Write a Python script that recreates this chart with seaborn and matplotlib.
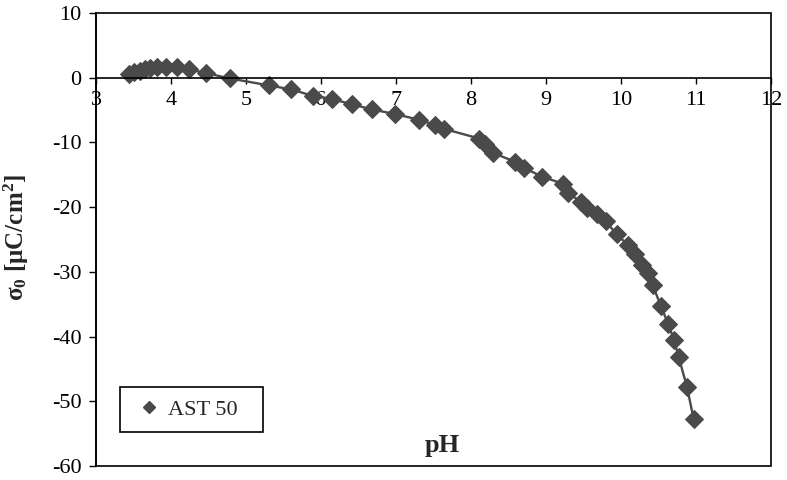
import matplotlib
matplotlib.use("Agg")
import matplotlib.pyplot as plt
import seaborn as sns
import pandas as pd
from matplotlib.lines import Line2D
from matplotlib.patches import Rectangle

ph = [3.44, 3.51, 3.58, 3.65, 3.72, 3.81, 3.93, 4.08, 4.24, 4.47, 4.78,
      5.31, 5.60, 5.89, 6.15, 6.41, 6.68, 6.98, 7.31, 7.52, 7.64,
      8.11, 8.19, 8.29, 8.59, 8.70, 8.95,
      9.23, 9.29, 9.47, 9.55, 9.68, 9.80, 9.94, 10.09, 10.19, 10.28,
      10.36, 10.42, 10.53, 10.63, 10.71, 10.77, 10.88, 10.97]
sigma = [0.5, 0.9, 1.1, 1.3, 1.5, 1.6, 1.7, 1.6, 1.3, 0.7, -0.1,
         -1.2, -1.8, -2.8, -3.3, -4.1, -4.9, -5.6, -6.5, -7.3, -7.9,
         -9.4, -10.2, -11.6, -13.0, -13.9, -15.3,
         -16.4, -17.8, -19.2, -20.1, -21.0, -22.2, -24.2, -25.8, -27.2, -28.9,
         -30.2, -32.0, -35.2, -38.1, -40.6, -43.2, -47.8, -52.8]
series_name = "AST 50"
x_ticks = [3, 4, 5, 6, 7, 8, 9, 10, 11, 12]
y_ticks = [-60, -50, -40, -30, -20, -10, 0, 10]

sns.set_style("white")
plt.rcParams['font.family'] = ['Liberation Serif', 'DejaVu Serif']
plt.rcParams['mathtext.fontset'] = 'custom'
plt.rcParams['mathtext.rm'] = 'Liberation Serif'
plt.rcParams['mathtext.bf'] = 'Liberation Serif:bold'
plt.rcParams['mathtext.it'] = 'Liberation Serif:italic'

df = pd.DataFrame({"pH": ph, "sigma": sigma})
color = "#4a4a4a"

fig = plt.figure(figsize=(7.87, 4.80), dpi=100)
ax = fig.add_axes([96/787, 14/480, 675/787, 453/480])

sns.lineplot(data=df, x="pH", y="sigma", sort=False, ax=ax, color=color,
             marker="D", markersize=9, markeredgecolor=color, linewidth=1.7,
             legend=False)

ax.set_xlim(3, 12)
ax.set_ylim(-60, 10)
ax.set_xticks(x_ticks)
ax.set_yticks(y_ticks)
ax.set_xticklabels([str(t) for t in x_ticks])
ax.set_yticklabels([str(t) for t in y_ticks])

for s in ["top", "right"]:
    ax.spines[s].set_visible(False)
ax.spines["bottom"].set_position(("data", 0))
ax.spines["bottom"].set_color("black")
ax.spines["left"].set_color("black")
ax.spines["bottom"].set_linewidth(1.2)
ax.spines["left"].set_linewidth(1.2)
ax.add_patch(Rectangle((0, 0), 1, 1, transform=ax.transAxes, fill=False,
                       edgecolor="black", linewidth=1.2, clip_on=False, zorder=5))

ax.tick_params(axis="both", which="both", direction="out", width=1,
               color="black", labelsize=16, labelcolor="black")
ax.tick_params(axis="x", bottom=True, length=4.5, pad=5)
ax.tick_params(axis="y", left=True, length=5, pad=5.5)

ax.set_xlabel("")
ax.set_ylabel(r"$\mathbf{\sigma_0}$ [$\mathbf{\mu}$C/cm$^{\mathbf{2}}$]",
              fontsize=18, fontweight="bold")
ax.yaxis.set_label_coords(-0.097, 0.505)
ax.text(0.513, 0.031, "pH", transform=ax.transAxes, ha="center", va="baseline",
        fontsize=19, fontweight="bold")

handle = Line2D([], [], linestyle="none", marker="D", markersize=6.5,
                color=color, markeredgecolor=color)
leg = ax.legend([handle], [series_name], loc="lower left",
                bbox_to_anchor=(0.0356, 0.075, 0.212, 0.1), mode="expand",
                fontsize=16, frameon=True,
                fancybox=False, edgecolor="black", framealpha=1,
                handlelength=1.5, handletextpad=0.1, borderpad=0.55,
                borderaxespad=0)
leg.get_frame().set_linewidth(1.2)

ax.grid(False)
fig.savefig("out.png", dpi=100)
